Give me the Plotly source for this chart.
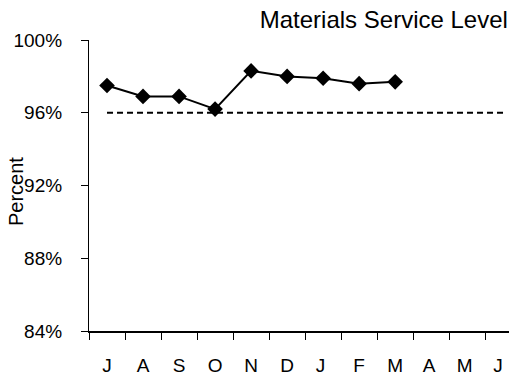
import plotly.graph_objects as go

# Monthly materials service level (fiscal year July..June), in percent
months = ["J", "A", "S", "O", "N", "D", "J ", "F", "M", "A ", "M ", "J  "]
service_level = [97.5, 96.9, 96.9, 96.2, 98.3, 98.0, 97.9, 97.6, 97.7]
target_level = [96.0] * len(months)

y_ticks = [84, 88, 92, 96, 100]
y_tick_labels = [f"{v}%" for v in y_ticks]

FONT = "Arial, Liberation Sans, Helvetica, sans-serif"

fig = go.Figure()

# Target line
fig.add_trace(go.Scatter(
    x=months,
    y=target_level,
    mode="lines",
    line=dict(color="black", width=2, dash="6px,4px"),
    showlegend=False,
    hoverinfo="skip",
))

# Actual service level
fig.add_trace(go.Scatter(
    x=months[:len(service_level)],
    y=service_level,
    mode="lines+markers",
    line=dict(color="black", width=2),
    marker=dict(symbol="diamond", size=12, color="black"),
    showlegend=False,
))

fig.update_layout(
    width=513,
    height=378,
    margin=dict(l=89, r=0, t=40, b=47),
    paper_bgcolor="white",
    plot_bgcolor="white",
    font=dict(family=FONT, size=19, color="black"),
    title=dict(
        text="Materials Service Level",
        font=dict(family=FONT, size=24, color="black"),
        xref="container", x=0.99, xanchor="right",
        yref="container", y=0.948, yanchor="middle",
    ),
    xaxis=dict(
        type="category",
        categoryorder="array",
        categoryarray=months,
        range=[-0.5, 11.16],
        tickson="boundaries",
        ticks="outside",
        ticklen=7,
        tickwidth=1,
        tickcolor="black",
        showline=True,
        linecolor="black",
        linewidth=1.5,
        showgrid=False,
        zeroline=False,
        ticklabelstandoff=16,
        fixedrange=True,
    ),
    yaxis=dict(
        range=[84, 100],
        tickmode="array",
        tickvals=y_ticks,
        ticktext=y_tick_labels,
        ticks="outside",
        ticklen=7,
        tickwidth=1,
        tickcolor="black",
        showline=True,
        linecolor="black",
        linewidth=1.2,
        showgrid=False,
        zeroline=False,
        ticklabelstandoff=15,
        fixedrange=True,
    ),
    annotations=[dict(
        text="Percent",
        textangle=-90,
        xref="paper", x=(16 - 89) / 424, xanchor="center",
        yref="paper", y=0.48, yanchor="middle",
        showarrow=False,
        font=dict(family=FONT, size=20, color="black"),
    )],
)

fig.write_html("out.html", config={"displayModeBar": False})
